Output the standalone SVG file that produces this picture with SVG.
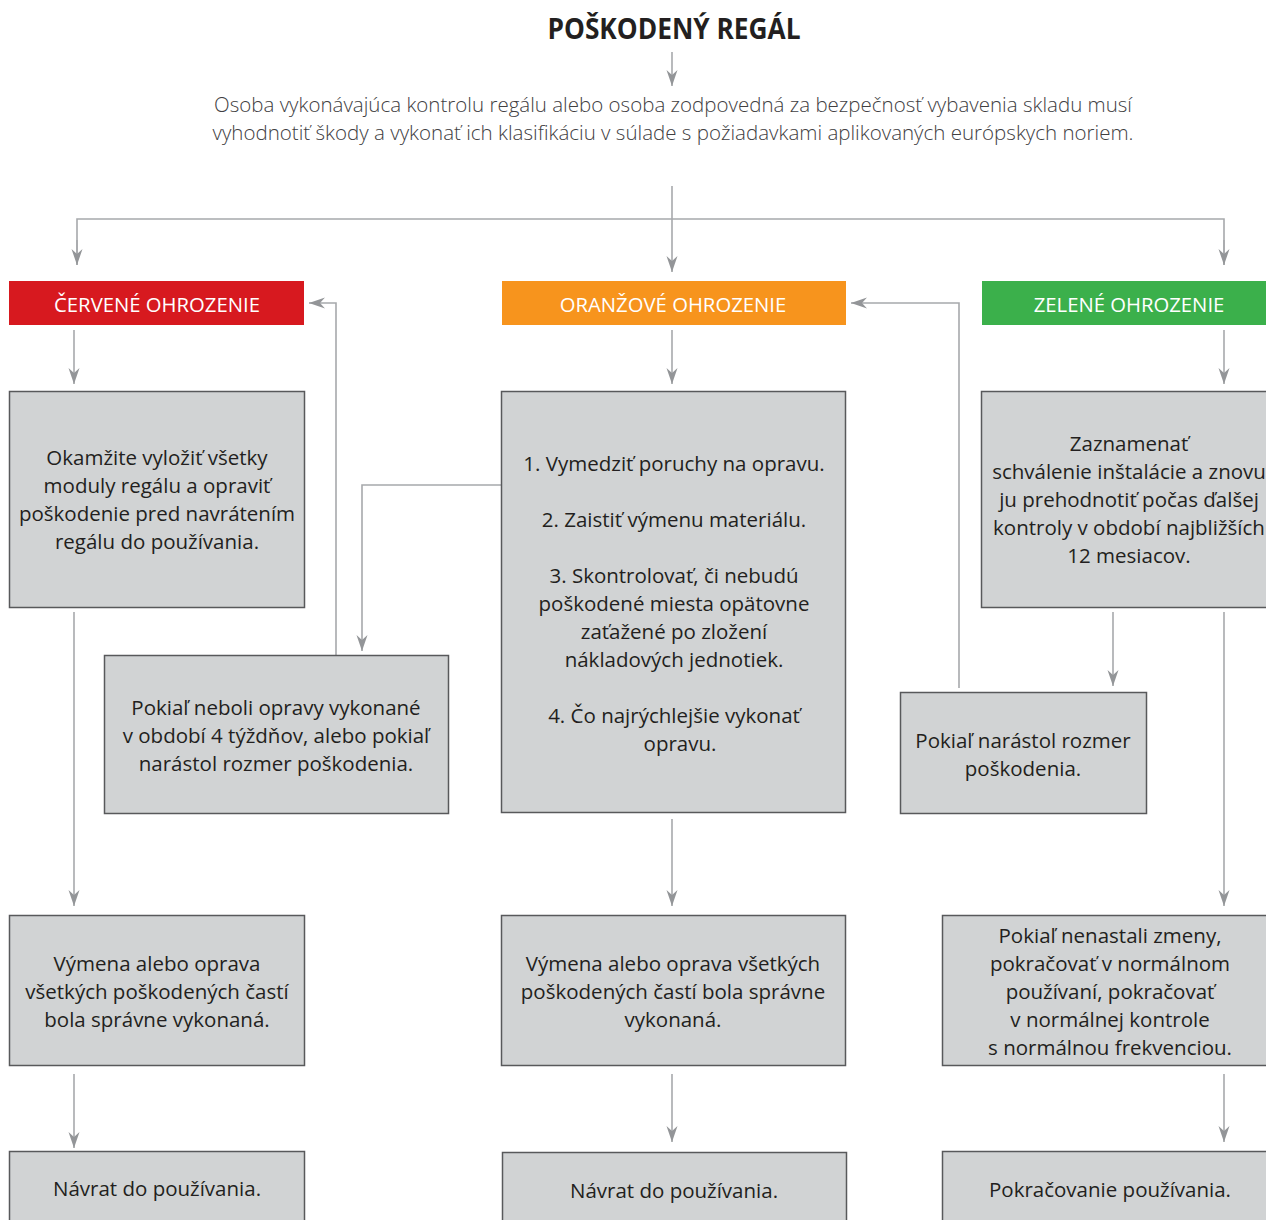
<svg xmlns="http://www.w3.org/2000/svg" width="1266" height="1220" viewBox="0 0 1266 1220">
<style>
.t{font-family:"Open Sans","Noto Sans","DejaVu Sans",sans-serif;font-size:20.5px;fill:#231f20;text-anchor:middle}
.h{font-family:"Open Sans","Noto Sans","DejaVu Sans",sans-serif;font-size:20.3px;fill:#ffffff;text-anchor:middle}
.d{font-family:"Open Sans","Noto Sans","DejaVu Sans",sans-serif;font-size:19.5px;font-weight:300;fill:#414042;text-anchor:middle}
.box{fill:#d1d3d4;stroke:#58595b;stroke-width:1.5}
.c{fill:none;stroke:#a7a9ac;stroke-width:1.6}
</style>
<defs>
<marker id="ah" markerUnits="userSpaceOnUse" markerWidth="18" markerHeight="14" viewBox="-16 -7 18 14" refX="0" refY="0" orient="auto" overflow="visible">
<path d="M-16,-5.5 L0,0 L-16,5.5 L-11,0 Z" fill="#939598"/>
</marker>
</defs>
<rect width="1266" height="1220" fill="#ffffff"/>
<g id="title">
<text x="674" y="39" textLength="253" lengthAdjust="spacingAndGlyphs" style="font-family:'Open Sans','Noto Sans',sans-serif;font-weight:700;font-size:29px;fill:#231f20;text-anchor:middle">POŠKODENÝ REGÁL</text>
</g>
<g id="intro">
<text class="d" x="673" y="112" textLength="918" lengthAdjust="spacingAndGlyphs">Osoba vykonávajúca kontrolu regálu alebo osoba zodpovedná za bezpečnosť vybavenia skladu musí</text>
<text class="d" x="673" y="140" textLength="921" lengthAdjust="spacingAndGlyphs">vyhodnotiť škody a vykonať ich klasifikáciu v súlade s požiadavkami aplikovaných európskych noriem.</text>
</g>
<g id="connectors">
<path class="c" d="M672,52 V86" marker-end="url(#ah)"/>
<path class="c" d="M672,186 V272" marker-end="url(#ah)"/>
<path class="c" d="M77,265 V219 H1224 V265" />
<path class="c" d="M77,240 V265" marker-end="url(#ah)"/>
<path class="c" d="M1224,240 V265" marker-end="url(#ah)"/>
<path class="c" d="M74,330 V384" marker-end="url(#ah)"/>
<path class="c" d="M672,330 V384" marker-end="url(#ah)"/>
<path class="c" d="M1224,330 V384" marker-end="url(#ah)"/>
<path class="c" d="M74,612 V906" marker-end="url(#ah)"/>
<path class="c" d="M336,655 V303 H309" marker-end="url(#ah)"/>
<path class="c" d="M501,485 H362 V651" marker-end="url(#ah)"/>
<path class="c" d="M672,819 V906" marker-end="url(#ah)"/>
<path class="c" d="M1113,612 V686" marker-end="url(#ah)"/>
<path class="c" d="M959,688 V303 H851" marker-end="url(#ah)"/>
<path class="c" d="M1224,612 V906" marker-end="url(#ah)"/>
<path class="c" d="M74,1074 V1148" marker-end="url(#ah)"/>
<path class="c" d="M672,1074 V1142" marker-end="url(#ah)"/>
<path class="c" d="M1224,1074 V1142" marker-end="url(#ah)"/>
</g>
<g id="red-header">
<rect x="9" y="281" width="295" height="44" fill="#d7191f"/>
<text class="h" x="157" y="312">ČERVENÉ OHROZENIE</text>
</g>
<g id="orange-header">
<rect x="502" y="281" width="344" height="44" fill="#f7941d"/>
<text class="h" x="673" y="312">ORANŽOVÉ OHROZENIE</text>
</g>
<g id="green-header">
<rect x="982" y="281" width="290" height="44" fill="#3bb04b"/>
<text class="h" x="1129" y="312">ZELENÉ OHROZENIE</text>
</g>
<g id="red-action">
<rect class="box" x="9.5" y="391.5" width="295" height="216"/>
<text class="t" x="157" y="465">Okamžite vyložiť všetky</text>
<text class="t" x="157" y="493">moduly regálu a opraviť</text>
<text class="t" x="157" y="521">poškodenie pred navrátením</text>
<text class="t" x="157" y="549">regálu do používania.</text>
</g>
<g id="red-condition">
<rect class="box" x="104.5" y="655.5" width="344" height="158"/>
<text class="t" x="276" y="715">Pokiaľ neboli opravy vykonané</text>
<text class="t" x="276" y="743">v období 4 týždňov, alebo pokiaľ</text>
<text class="t" x="276" y="771">narástol rozmer poškodenia.</text>
</g>
<g id="orange-action">
<rect class="box" x="501.5" y="391.5" width="344" height="421"/>
<text class="t" x="674" y="471">1. Vymedziť poruchy na opravu.</text>
<text class="t" x="674" y="527">2. Zaistiť výmenu materiálu.</text>
<text class="t" x="674" y="583">3. Skontrolovať, či nebudú</text>
<text class="t" x="674" y="611">poškodené miesta opätovne</text>
<text class="t" x="674" y="639">zaťažené po zložení</text>
<text class="t" x="674" y="667">nákladových jednotiek.</text>
<text class="t" x="674" y="723">4. Čo najrýchlejšie vykonať</text>
<text class="t" x="680" y="751">opravu.</text>
</g>
<g id="green-action">
<rect class="box" x="981.5" y="391.5" width="300" height="216"/>
<text class="t" x="1129" y="451">Zaznamenať</text>
<text class="t" x="1129" y="479">schválenie inštalácie a znovu</text>
<text class="t" x="1129" y="507">ju prehodnotiť počas ďalšej</text>
<text class="t" x="1129" y="535">kontroly v období najbližších</text>
<text class="t" x="1129" y="563">12 mesiacov.</text>
</g>
<g id="green-condition">
<rect class="box" x="900.5" y="692.5" width="246" height="121"/>
<text class="t" x="1023" y="748">Pokiaľ narástol rozmer</text>
<text class="t" x="1023" y="776">poškodenia.</text>
</g>
<g id="red-done">
<rect class="box" x="9.5" y="915.5" width="295" height="150"/>
<text class="t" x="157" y="971">Výmena alebo oprava</text>
<text class="t" x="157" y="999">všetkých poškodených častí</text>
<text class="t" x="157" y="1027">bola správne vykonaná.</text>
</g>
<g id="orange-done">
<rect class="box" x="501.5" y="915.5" width="344" height="150"/>
<text class="t" x="673" y="971">Výmena alebo oprava všetkých</text>
<text class="t" x="673" y="999">poškodených častí bola správne</text>
<text class="t" x="673" y="1027">vykonaná.</text>
</g>
<g id="green-done">
<rect class="box" x="942.5" y="915.5" width="340" height="150"/>
<text class="t" x="1110" y="943">Pokiaľ nenastali zmeny,</text>
<text class="t" x="1110" y="971">pokračovať v normálnom</text>
<text class="t" x="1110" y="999">používaní, pokračovať</text>
<text class="t" x="1110" y="1027">v normálnej kontrole</text>
<text class="t" x="1110" y="1055">s normálnou frekvenciou.</text>
</g>
<g id="red-return">
<rect class="box" x="9.5" y="1151.5" width="295" height="90"/>
<text class="t" x="157" y="1196">Návrat do používania.</text>
</g>
<g id="orange-return">
<rect class="box" x="502.5" y="1152.5" width="344" height="90"/>
<text class="t" x="674" y="1198">Návrat do používania.</text>
</g>
<g id="green-return">
<rect class="box" x="942.5" y="1151.5" width="340" height="90"/>
<text class="t" x="1110" y="1197">Pokračovanie používania.</text>
</g>
</svg>
